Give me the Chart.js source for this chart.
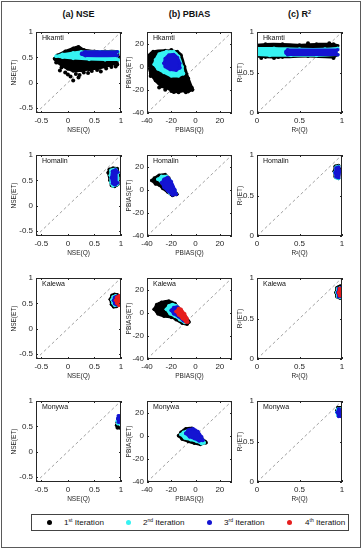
<!DOCTYPE html>
<html>
<head>
<meta charset="utf-8">
<script src="https://cdn.jsdelivr.net/npm/chart.js@4.4.0/dist/chart.umd.min.js"></script>
<style>
body{margin:0;background:#fff;font-family:"Liberation Sans",Arial,sans-serif}
#fig{position:relative;width:363px;height:550px;overflow:hidden}
#frame{position:absolute;left:1px;top:1px;width:358px;height:545px;border:1px solid #5a5a5a}
.hd{position:absolute;top:9px;width:110px;margin-left:-55px;text-align:center;font-weight:bold;font-size:9px;line-height:11px;color:#111}
.hd sup,.lt sup{font-size:0.62em;line-height:0;vertical-align:0.55em}
canvas{position:absolute}
#legend{position:absolute;left:31px;top:514px;width:316px;height:15px;border:1px solid #444;background:#fff}
.dot{position:absolute;top:5px;width:5px;height:5px;border-radius:50%;margin-left:-2.5px}
.lt{position:absolute;top:1px;font-size:8.1px;line-height:13px;color:#111;white-space:nowrap}
</style>
</head>
<body>
<div id="fig">
  <div id="frame"></div>
  <div class="hd" style="left:78.5px">(a) NSE</div>
  <div class="hd" style="left:189.5px">(b) PBIAS</div>
  <div class="hd" style="left:299.5px">(c) R<sup>2</sup></div>
  <div id="legend">
    <span class="dot" style="left:17px;background:#000"></span><span class="lt" style="left:32px">1<sup>st</sup> Iteration</span>
    <span class="dot" style="left:96px;background:#36f2f2"></span><span class="lt" style="left:111px">2<sup>nd</sup> Iteration</span>
    <span class="dot" style="left:177px;background:#1414d2"></span><span class="lt" style="left:192px">3<sup>rd</sup> Iteration</span>
    <span class="dot" style="left:257px;background:#e61e1e"></span><span class="lt" style="left:273px">4<sup>th</sup> Iteration</span>
  </div>
</div>
<script>
// ---- data ----
const stations = ['Hkamti', 'Homalin', 'Kalewa', 'Monywa'];
const xTitles = ['NSE(Q)', 'PBIAS(Q)', 'R²(Q)'];
const yTitles = ['NSE(ET)', 'PBIAS(ET)', 'R²(ET)'];
const iterColors = ['#000000', '#36f2f2', '#1414d2', '#e61e1e'];
const nseRange = [-0.6, 1];
const pbiasRange = [-40, 30];
const r2Range = [0, 1];
const nseTicks = [-0.5, 0, 0.5, 1];
const pbiasTicks = [-40, -20, 0, 20];
const r2Ticks = [0, 0.5, 1];

// each cloud = upper edge + lower edge, [x, y]
// Hkamti
const hkamtiNse1Top = [[-0.25,0.47],[-0.2,0.54],[-0.05,0.62],[0.1,0.68],[0.2,0.71],[0.3,0.65],[0.5,0.62],[0.7,0.62],[0.93,0.61],[0.95,0.5]];
const hkamtiNse1Bot = [[-0.25,0.47],[-0.2,0.4],[-0.1,0.33],[0,0.27],[0.1,0.23],[0.25,0.24],[0.4,0.26],[0.6,0.29],[0.8,0.34],[0.92,0.4],[0.95,0.5]];
const hkamtiNseDots = [[-0.22,0.4],[-0.15,0.24],[-0.12,0.3],[-0.05,0.2],[0.05,0.12],[0.1,0.04],[0.15,0.17],[0.22,0.15],[0.3,0.2],[0.38,0.19],[0.45,0.23],[0.55,0.25],[0.62,0.22],[0.72,0.28],[0.82,0.31],[0.9,0.32],[0.93,0.36],[0,0.16],[0.2,0.1]];
const hkamtiNse2Top = [[-0.22,0.52],[-0.1,0.56],[0.1,0.59],[0.25,0.61],[0.6,0.61],[0.95,0.61]];
const hkamtiNse2Bot = [[-0.22,0.52],[-0.1,0.5],[0.1,0.48],[0.4,0.46],[0.7,0.45],[0.95,0.45]];
const hkamtiNse3Top = [[0.26,0.58],[0.33,0.61],[0.93,0.61]];
const hkamtiNse3Bot = [[0.26,0.56],[0.33,0.53],[0.93,0.53]];

const hkamtiPb1Top = [[-39,2],[-38,10],[-35,13],[-25,14],[-15,13],[-12,10],[-9,0],[-6,-10],[-3,-18],[-2.5,-20]];
const hkamtiPb1Bot = [[-39,2],[-37,-6],[-33,-12],[-28,-17],[-22,-19],[-18,-22],[-12,-21],[-6,-21.5],[-2.5,-20]];
const hkamtiPbDots = [[-37,-8],[-30,-18],[-25,-20],[-20,-21],[-14,-22],[-8,-22],[-4,-19],[-36,8],[-20,14.5]];
const hkamtiPb2Top = [[-34,2],[-33,6],[-30,11],[-24,13],[-18,13],[-14,9],[-11,0],[-10,-6]];
const hkamtiPb2Bot = [[-34,2],[-31,-2],[-26,-5],[-20,-8],[-14,-8],[-10,-6]];
const hkamtiPb3Top = [[-26,3],[-25,7],[-22,10],[-18,10.5],[-15,8],[-13,3],[-13,-1]];
const hkamtiPb3Bot = [[-26,3],[-25,0],[-21,-2.5],[-16,-3],[-13,-1]];

const hkamtiR1Top = [[0,0.84],[0.1,0.85],[0.3,0.85],[0.5,0.84],[0.7,0.85],[0.9,0.85],[0.95,0.83]];
const hkamtiR1Bot = [[0,0.7],[0.1,0.69],[0.3,0.69],[0.6,0.7],[0.9,0.69],[0.95,0.72]];
const hkamtiRDots = [[0.05,0.68],[0.2,0.68],[0.25,0.69],[0.9,0.68],[0.6,0.86],[0.85,0.86]];
const hkamtiR2Top = [[0,0.8],[0.2,0.8],[0.5,0.79],[0.8,0.79],[0.95,0.8]];
const hkamtiR2Bot = [[0,0.72],[0.15,0.71],[0.4,0.71],[0.7,0.71],[0.95,0.72]];
const hkamtiR3Top = [[0.34,0.76],[0.36,0.78],[0.95,0.78]];
const hkamtiR3Bot = [[0.34,0.74],[0.36,0.72],[0.95,0.72]];

// Homalin
const homalinNse1Top = [[0.76,0.65],[0.78,0.72],[0.85,0.74],[0.93,0.73],[0.95,0.6]];
const homalinNse1Bot = [[0.76,0.65],[0.79,0.5],[0.82,0.4],[0.88,0.38],[0.94,0.42],[0.95,0.6]];
const homalinNse2Top = [[0.8,0.6],[0.81,0.7],[0.9,0.72],[0.94,0.65]];
const homalinNse2Bot = [[0.8,0.6],[0.81,0.45],[0.85,0.39],[0.93,0.42],[0.94,0.65]];
const homalinNse3Top = [[0.82,0.55],[0.84,0.68],[0.9,0.71],[0.94,0.66]];
const homalinNse3Bot = [[0.82,0.55],[0.84,0.44],[0.89,0.41],[0.94,0.45]];

const homalinPb1Top = [[-36,8],[-34,10],[-30,12.5],[-25,13],[-22,10],[-19,3],[-16,-3],[-15.5,-4]];
const homalinPb1Bot = [[-36,8],[-33,5],[-30,4],[-27,1],[-23,-2],[-19,-5],[-15.5,-4]];
const homalinPb2Top = [[-31,9],[-28,11.5],[-24,11.5],[-21,8],[-17,-1],[-16.5,-3]];
const homalinPb2Bot = [[-31,9],[-28,6],[-25,2],[-21,-3],[-16.5,-3]];
const homalinPb3Top = [[-28,6],[-26,9],[-23,10.5],[-20,7],[-17,0],[-16,-4]];
const homalinPb3Bot = [[-28,6],[-26,2],[-23,-1],[-19,-4.5],[-16,-4]];

const homalinR1Top = [[0.91,0.8],[0.92,0.86],[0.96,0.87],[0.97,0.82]];
const homalinR1Bot = [[0.91,0.8],[0.92,0.73],[0.96,0.71],[0.97,0.82]];
const homalinR2Top = [[0.915,0.78],[0.93,0.85],[0.96,0.86]];
const homalinR2Bot = [[0.915,0.78],[0.93,0.72],[0.96,0.71]];
const homalinR3Top = [[0.92,0.78],[0.93,0.84],[0.96,0.85],[0.975,0.8]];
const homalinR3Bot = [[0.92,0.78],[0.93,0.73],[0.96,0.72],[0.975,0.8]];

// Kalewa
const kalewaNse1Top = [[0.8,0.58],[0.83,0.66],[0.88,0.68],[0.93,0.67],[0.96,0.6]];
const kalewaNse1Bot = [[0.8,0.58],[0.82,0.48],[0.86,0.43],[0.92,0.44],[0.96,0.5]];
const kalewaNse2Top = [[0.83,0.57],[0.85,0.63],[0.9,0.65],[0.95,0.6]];
const kalewaNse2Bot = [[0.83,0.57],[0.85,0.5],[0.88,0.46],[0.93,0.47],[0.95,0.5]];
const kalewaNse3Top = [[0.86,0.56],[0.88,0.62],[0.93,0.64],[0.96,0.58]];
const kalewaNse3Bot = [[0.86,0.56],[0.88,0.49],[0.92,0.47],[0.96,0.5]];
const kalewaNse4Top = [[0.9,0.56],[0.92,0.62],[0.97,0.65],[1,0.63]];
const kalewaNse4Bot = [[0.9,0.56],[0.92,0.5],[0.96,0.46],[1,0.47]];

const kalewaPb1Top = [[-34,3],[-32,7],[-28,9],[-22,10],[-17,8],[-14,4],[-10,-2],[-6,-7],[-5.5,-8]];
const kalewaPb1Bot = [[-34,3],[-31,-1],[-26,-3],[-20,-4],[-16,-6],[-11,-9],[-7,-10],[-5.5,-8]];
const kalewaPb2Top = [[-24,3],[-22,6],[-19,7],[-16,6],[-12,1],[-8,-5],[-7.5,-7]];
const kalewaPb2Bot = [[-24,3],[-21,-1],[-17,-3],[-13,-6],[-9,-8.5],[-7.5,-7]];
const kalewaPb3Top = [[-20,2],[-18,4.5],[-15,5],[-12,2],[-8,-4],[-7,-7]];
const kalewaPb3Bot = [[-20,2],[-18,-1],[-14,-3.5],[-10,-7],[-7,-8]];
const kalewaPb4Top = [[-16,1],[-14,3.5],[-12,3],[-9,-1],[-7,-5],[-6.5,-8]];
const kalewaPb4Bot = [[-16,1],[-14,-2],[-11,-5],[-8,-8],[-6.5,-8]];

const kalewaR1Top = [[0.93,0.82],[0.94,0.88],[0.98,0.9],[1,0.88]];
const kalewaR1Bot = [[0.93,0.82],[0.94,0.77],[0.98,0.75],[1,0.77]];
const kalewaR2Top = [[0.94,0.82],[0.95,0.87],[0.98,0.88]];
const kalewaR2Bot = [[0.94,0.82],[0.95,0.77],[0.98,0.76]];
const kalewaR3Top = [[0.95,0.82],[0.96,0.87],[0.99,0.88]];
const kalewaR3Bot = [[0.95,0.82],[0.96,0.77],[0.99,0.77]];
const kalewaR4Top = [[0.96,0.82],[0.97,0.87],[1,0.87]];
const kalewaR4Bot = [[0.96,0.82],[0.97,0.78],[1,0.78]];

// Monywa
const monywaNse1Top = [[0.92,0.52],[0.93,0.58],[0.97,0.58]];
const monywaNse1Bot = [[0.92,0.52],[0.93,0.47],[0.97,0.47]];
const monywaNse2Top = [[0.93,0.6],[0.94,0.66],[0.97,0.66]];
const monywaNse2Bot = [[0.93,0.6],[0.94,0.55],[0.97,0.55]];
const monywaNse3Top = [[0.94,0.65],[0.95,0.71],[1,0.71]];
const monywaNse3Bot = [[0.94,0.65],[0.95,0.58],[1,0.58]];

const monywaPb1Top = [[-14,0],[-12,3],[-8,6],[-3,6.5],[1,3],[5,-2],[8,-5],[8.5,-6]];
const monywaPb1Bot = [[-14,0],[-11,-3],[-6,-5],[-1,-6.5],[4,-7.5],[8.5,-6]];
const monywaPb2Top = [[-12,1],[-10,3],[-6,4.5],[-1,4],[3,0],[6,-4],[7,-6]];
const monywaPb2Bot = [[-12,1],[-9,-2],[-4,-3.5],[1,-5],[5,-7],[7,-6]];
const monywaPb3Top = [[-8,2],[-6,5],[-2,6],[2,3.5],[5,-1],[6,-4]];
const monywaPb3Bot = [[-8,2],[-5,-1],[-1,-2.5],[3,-4.5],[6,-4]];

const monywaR1Top = [[0.94,0.88],[0.95,0.92],[1,0.92]];
const monywaR1Bot = [[0.94,0.88],[0.95,0.83],[1,0.83]];
const monywaR2Top = [[0.94,0.86],[0.95,0.9],[0.98,0.9]];
const monywaR2Bot = [[0.94,0.86],[0.95,0.82],[0.98,0.82]];
const monywaR3Top = [[0.945,0.86],[0.96,0.9],[0.99,0.89]];
const monywaR3Bot = [[0.945,0.86],[0.96,0.81],[0.99,0.81]];

const ranges = [nseRange, pbiasRange, r2Range];
const tickSets = [nseTicks, pbiasTicks, r2Ticks];

const panels = [
  {st:0, m:0, dots:hkamtiNseDots, clouds:[[hkamtiNse1Top,hkamtiNse1Bot],[hkamtiNse2Top,hkamtiNse2Bot],[hkamtiNse3Top,hkamtiNse3Bot]]},
  {st:0, m:1, dots:hkamtiPbDots, clouds:[[hkamtiPb1Top,hkamtiPb1Bot],[hkamtiPb2Top,hkamtiPb2Bot],[hkamtiPb3Top,hkamtiPb3Bot]]},
  {st:0, m:2, dots:hkamtiRDots, clouds:[[hkamtiR1Top,hkamtiR1Bot],[hkamtiR2Top,hkamtiR2Bot],[hkamtiR3Top,hkamtiR3Bot]]},
  {st:1, m:0, clouds:[[homalinNse1Top,homalinNse1Bot],[homalinNse2Top,homalinNse2Bot],[homalinNse3Top,homalinNse3Bot]]},
  {st:1, m:1, clouds:[[homalinPb1Top,homalinPb1Bot],[homalinPb2Top,homalinPb2Bot],[homalinPb3Top,homalinPb3Bot]]},
  {st:1, m:2, clouds:[[homalinR1Top,homalinR1Bot],[homalinR2Top,homalinR2Bot],[homalinR3Top,homalinR3Bot]]},
  {st:2, m:0, clouds:[[kalewaNse1Top,kalewaNse1Bot],[kalewaNse2Top,kalewaNse2Bot],[kalewaNse3Top,kalewaNse3Bot],[kalewaNse4Top,kalewaNse4Bot]]},
  {st:2, m:1, clouds:[[kalewaPb1Top,kalewaPb1Bot],[kalewaPb2Top,kalewaPb2Bot],[kalewaPb3Top,kalewaPb3Bot],[kalewaPb4Top,kalewaPb4Bot]]},
  {st:2, m:2, clouds:[[kalewaR1Top,kalewaR1Bot],[kalewaR2Top,kalewaR2Bot],[kalewaR3Top,kalewaR3Bot],[kalewaR4Top,kalewaR4Bot]]},
  {st:3, m:0, clouds:[[monywaNse1Top,monywaNse1Bot],[monywaNse2Top,monywaNse2Bot],[monywaNse3Top,monywaNse3Bot]]},
  {st:3, m:1, clouds:[[monywaPb1Top,monywaPb1Bot],[monywaPb2Top,monywaPb2Bot],[monywaPb3Top,monywaPb3Bot]]},
  {st:3, m:2, clouds:[[monywaR1Top,monywaR1Bot],[monywaR2Top,monywaR2Bot],[monywaR3Top,monywaR3Bot]]},
];

// ---- layout ----
const FONT = '"Liberation Sans", Arial, sans-serif';
Chart.defaults.font.family = FONT;
const boxLeft = [36, 147, 257];
const yAxisW = [26, 22, 21];
const boxTop0 = 32, rowStep = 123, boxW = 85, boxH = 81;
const padT = 10, padR = 8, xAxisH = 21;
const ink = '#262626';

const toXY = p => ({x: p[0], y: p[1]});

// box, inward ticks and station name, like a matlab axes
const axesBox = {
  id: 'axesBox',
  afterDatasetsDraw(chart, args, opts) {
    const {ctx, chartArea: a, scales: {x, y}} = chart;
    ctx.save();
    ctx.strokeStyle = ink;
    ctx.lineWidth = 1;
    ctx.strokeRect(a.left + 0.5, a.top + 0.5, a.width - 1, a.height - 1);
    ctx.beginPath();
    x.ticks.forEach(t => {
      const px = Math.round(x.getPixelForValue(t.value)) + 0.5;
      ctx.moveTo(px, a.bottom); ctx.lineTo(px, a.bottom - 2);
      ctx.moveTo(px, a.top); ctx.lineTo(px, a.top + 2);
    });
    y.ticks.forEach(t => {
      const py = Math.round(y.getPixelForValue(t.value)) + 0.5;
      ctx.moveTo(a.left, py); ctx.lineTo(a.left + 2, py);
      ctx.moveTo(a.right, py); ctx.lineTo(a.right - 2, py);
    });
    ctx.stroke();
    ctx.fillStyle = '#111';
    ctx.font = '7px ' + FONT;
    ctx.textBaseline = 'middle';
    ctx.fillText(opts.label, a.left + 6, a.top + 6.5);
    ctx.restore();
  }
};

const fig = document.getElementById('fig');
panels.forEach(p => {
  const col = p.m, row = p.st;
  const range = ranges[col], ticks = tickSets[col];
  const cv = document.createElement('canvas');
  const w = yAxisW[col] + boxW + padR, h = padT + boxH + xAxisH;
  cv.width = w; cv.height = h;
  cv.style.left = (boxLeft[col] - yAxisW[col]) + 'px';
  cv.style.top = (boxTop0 + rowStep * row - padT) + 'px';
  fig.insertBefore(cv, document.getElementById('legend'));

  const ds = [{
    data: [toXY([range[0], range[0]]), toXY([range[1], range[1]])],
    borderColor: '#8c8c8c', borderWidth: 0.8, borderDash: [3, 2.5],
    pointRadius: 0, fill: false, order: 20
  }];
  if (p.dots) ds.push({
    data: p.dots.map(toXY), showLine: false, pointRadius: 2,
    pointBackgroundColor: '#000', pointBorderWidth: 0, order: 10
  });
  p.clouds.forEach((c, i) => {
    const colr = iterColors[i];
    const common = {
      borderColor: colr, backgroundColor: colr, pointBackgroundColor: colr,
      borderWidth: 2.5, pointRadius: 1.8, pointBorderWidth: 0,
      tension: 0.3, order: 9 - 2 * i, clip: 0
    };
    ds.push({...common, data: c[0].map(toXY), fill: '+1'});
    ds.push({...common, data: c[1].map(toXY), fill: false});
  });

  const axis = (title, isX) => ({
    type: 'linear', min: range[0], max: range[1],
    grid: {display: false, drawTicks: false},
    border: {display: false},
    ticks: {font: {size: 8}, color: ink, padding: 3, maxRotation: 0, autoSkip: false,
            callback: v => String(v)},
    afterBuildTicks: s => { s.ticks = ticks.map(v => ({value: v})); },
    afterFit: s => { if (isX) s.height = xAxisH; else s.width = yAxisW[col]; },
    title: {display: true, text: title, font: {size: 6.5}, color: ink, padding: 0}
  });

  new Chart(cv, {
    type: 'line',
    data: {datasets: ds},
    options: {
      responsive: false, animation: false, devicePixelRatio: 1, events: [],
      layout: {padding: {top: padT, right: padR, left: 0, bottom: 0}},
      plugins: {legend: {display: false}, tooltip: {enabled: false}, axesBox: {label: stations[row]}},
      scales: {x: axis(xTitles[col], true), y: axis(yTitles[col], false)}
    },
    plugins: [axesBox]
  });
});
</script>
</body>
</html>
